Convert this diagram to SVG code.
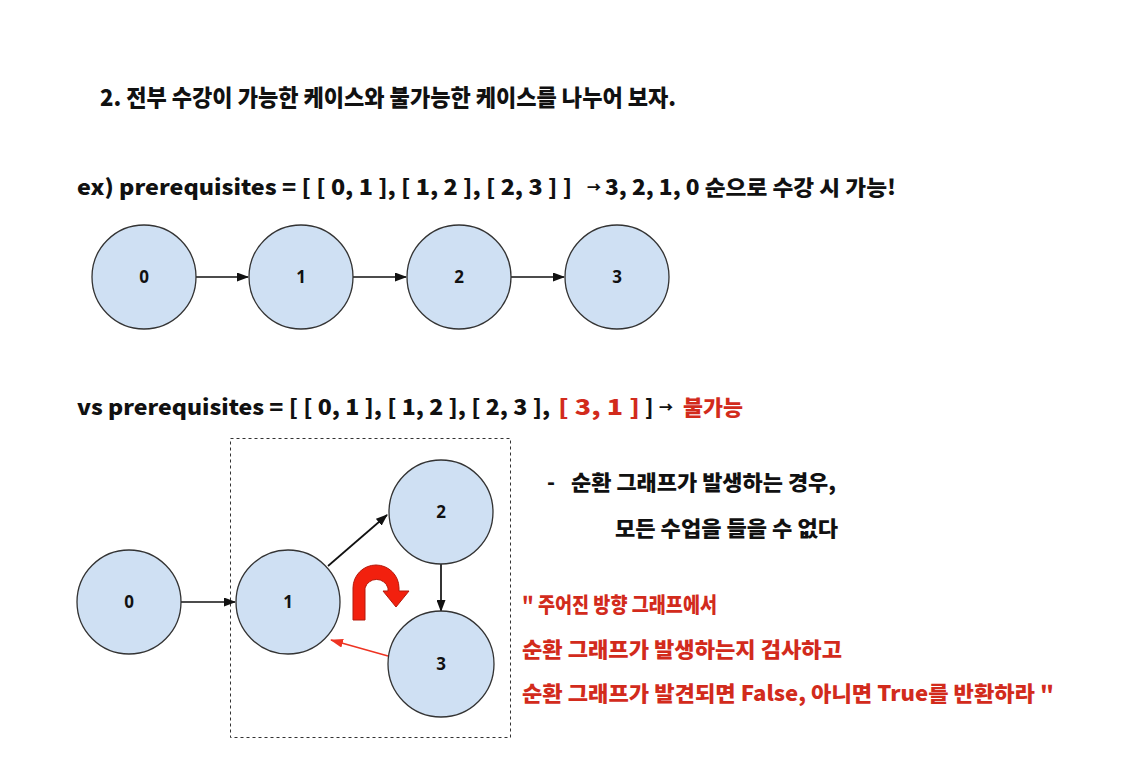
<svg xmlns="http://www.w3.org/2000/svg" width="1147" height="765" viewBox="0 0 1147 765">
<style>
.t{font-family:"Noto Sans CJK KR","Noto Sans",sans-serif;font-weight:900;fill:#111}
.r{fill:#d22b1c}
.nd{fill:#cfe0f3;stroke:#333;stroke-width:1.3}
.nl{font-family:"Noto Sans","Liberation Sans",sans-serif;font-weight:700;font-size:17px;fill:#111;text-anchor:middle}
.e{stroke:#111;stroke-width:1.7;fill:none}
.er{stroke:#ee3322;stroke-width:1.5;fill:none}
</style>
<defs>
<marker id="ab" markerWidth="12" markerHeight="9" refX="11" refY="4.5" orient="auto" markerUnits="userSpaceOnUse"><path d="M0,0 L12,4.5 L0,9 z" fill="#111"/></marker>
<marker id="ar" markerWidth="13" markerHeight="9" refX="12" refY="4.5" orient="auto" markerUnits="userSpaceOnUse"><path d="M0,0 L13,4.5 L0,9 z" fill="#ee3322"/></marker>
</defs>
<rect width="1147" height="765" fill="#fff"/>

<text class="t" x="100" y="106" font-size="23" textLength="576" lengthAdjust="spacingAndGlyphs">2. 전부 수강이 가능한 케이스와 불가능한 케이스를 나누어 보자.</text>

<text class="t" x="77" y="195" font-size="21" textLength="495" lengthAdjust="spacingAndGlyphs">ex) prerequisites = [ [ 0, 1 ], [ 1, 2 ], [ 2, 3 ] ]</text>
<text class="t" x="587" y="192" font-size="14" textLength="14" lengthAdjust="spacingAndGlyphs">→</text>
<text class="t" x="605" y="195" font-size="21" textLength="291" lengthAdjust="spacingAndGlyphs">3, 2, 1, 0 순으로 수강 시 가능!</text>

<text class="t" x="77" y="415" font-size="21" textLength="473" lengthAdjust="spacingAndGlyphs">vs prerequisites = [ [ 0, 1 ], [ 1, 2 ], [ 2, 3 ],</text>
<text class="t r" x="558" y="415" font-size="21" textLength="82" lengthAdjust="spacingAndGlyphs">[ 3, 1 ]</text>
<text class="t" x="645" y="415" font-size="21">]</text>
<text class="t" x="659" y="412" font-size="14" textLength="14" lengthAdjust="spacingAndGlyphs">→</text>
<text class="t r" x="683" y="415" font-size="21" textLength="60" lengthAdjust="spacingAndGlyphs">불가능</text>

<text class="t" x="547" y="490" font-size="21">-</text>
<text class="t" x="571" y="490" font-size="21" textLength="265" lengthAdjust="spacingAndGlyphs">순환 그래프가 발생하는 경우,</text>
<text class="t" x="615" y="536" font-size="21" textLength="223" lengthAdjust="spacingAndGlyphs">모든 수업을 들을 수 없다</text>
<text class="t r" x="522" y="612" font-size="21" textLength="195" lengthAdjust="spacingAndGlyphs">" 주어진 방향 그래프에서</text>
<text class="t r" x="522" y="657" font-size="21" textLength="320" lengthAdjust="spacingAndGlyphs">순환 그래프가 발생하는지 검사하고</text>
<text class="t r" x="522" y="701" font-size="21" textLength="532" lengthAdjust="spacingAndGlyphs">순환 그래프가 발견되면 False, 아니면 True를 반환하라 "</text>

<rect x="230.5" y="438.5" width="280" height="299" fill="none" stroke="#333" stroke-width="1" stroke-dasharray="3,3"/>

<g id="connectors">
<line class="e" x1="196" y1="277" x2="248" y2="277" marker-end="url(#ab)"/>
<line class="e" x1="353" y1="277" x2="406" y2="277" marker-end="url(#ab)"/>
<line class="e" x1="511" y1="277" x2="564" y2="277" marker-end="url(#ab)"/>
<line class="e" x1="181" y1="602" x2="235" y2="602" marker-end="url(#ab)"/>
<line class="e" x1="328" y1="566" x2="387" y2="515" marker-end="url(#ab)"/>
<line class="e" x1="441" y1="564" x2="441" y2="611" marker-end="url(#ab)"/>
<line class="er" x1="388" y1="656" x2="331" y2="640" marker-end="url(#ar)"/>
</g>

<g id="top0"><ellipse class="nd" cx="144" cy="277" rx="52" ry="52"/><text class="nl" x="144" y="283">0</text></g>
<g id="top1"><ellipse class="nd" cx="301" cy="277" rx="52" ry="52"/><text class="nl" x="301" y="283">1</text></g>
<g id="top2"><ellipse class="nd" cx="459" cy="277" rx="52" ry="52"/><text class="nl" x="459" y="283">2</text></g>
<g id="top3"><ellipse class="nd" cx="617" cy="277" rx="52" ry="52"/><text class="nl" x="617" y="283">3</text></g>

<g id="bot0"><ellipse class="nd" cx="129" cy="602" rx="52" ry="52"/><text class="nl" x="129" y="608">0</text></g>
<g id="bot1"><ellipse class="nd" cx="288" cy="602" rx="52" ry="52"/><text class="nl" x="288" y="608">1</text></g>
<g id="bot2"><ellipse class="nd" cx="441" cy="512" rx="52" ry="52"/><text class="nl" x="441" y="518">2</text></g>
<g id="bot3"><ellipse class="nd" cx="441" cy="664" rx="53" ry="53"/><text class="nl" x="441" y="670">3</text></g>

<g id="uturn">
<path d="M353,620 L353,588 A23,23 0 0 1 399,588 L399,591 L409,591 L396,607 L383,591 L388,591 L388,588 A12,12 0 0 0 365,588 L365,620 Z" fill="#f2200e" stroke="#b5180a" stroke-width="1"/>
</g>
</svg>
